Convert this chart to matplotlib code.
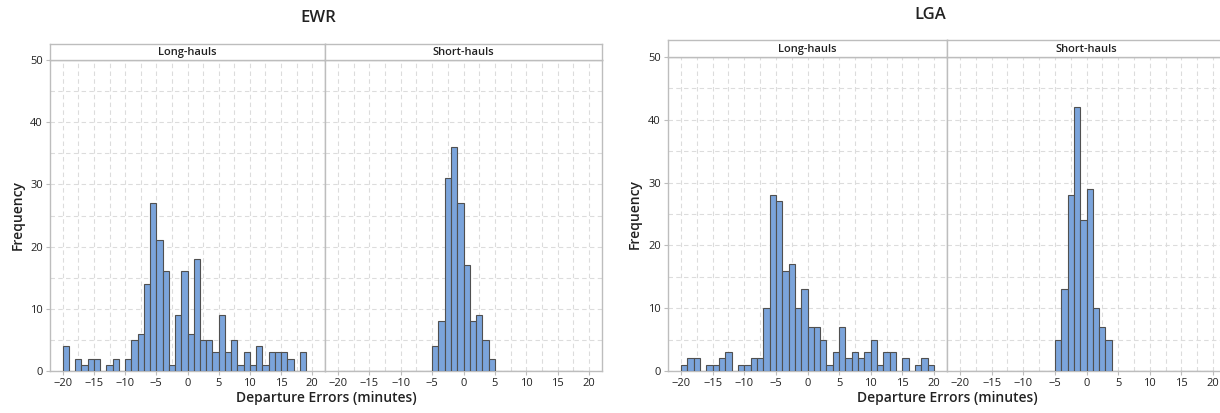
import numpy as np
import matplotlib
matplotlib.use("Agg")
import matplotlib.pyplot as plt

plt.rcParams['font.family'] = ['Open Sans', 'DejaVu Sans']

# bin left edges (width 1 minute)
ewr_bins = [-20, -19, -18, -17, -16, -15, -14, -13, -12, -11,
            -10, -9, -8, -7, -6, -5, -4, -3, -2, -1,
            0, 1, 2, 3, 4, 5, 6, 7, 8, 9,
            10, 11, 12, 13, 14, 15, 16, 17, 18]
ewr_long = [4, 0, 2, 1, 2, 2, 0, 1, 2, 0,
            2, 5, 6, 14, 27, 21, 16, 1, 9, 16,
            6, 18, 5, 5, 3, 9, 3, 5, 1, 3,
            1, 4, 1, 3, 3, 3, 2, 0, 3]
ewr_short = [0, 0, 0, 0, 0, 0, 0, 0, 0, 0,
             0, 0, 0, 0, 0, 4, 8, 31, 36, 27,
             17, 8, 9, 5, 2, 0, 0, 0, 0, 0,
             0, 0, 0, 0, 0, 0, 0, 0, 0]

lga_bins = [-20, -19, -18, -17, -16, -15, -14, -13, -12, -11,
            -10, -9, -8, -7, -6, -5, -4, -3, -2, -1,
            0, 1, 2, 3, 4, 5, 6, 7, 8, 9,
            10, 11, 12, 13, 14, 15, 16, 17, 18, 19]
lga_long = [1, 2, 2, 0, 1, 1, 2, 3, 0, 1,
            1, 2, 2, 10, 28, 27, 16, 17, 10, 13,
            7, 7, 5, 1, 3, 7, 2, 3, 2, 3,
            5, 1, 3, 3, 0, 2, 0, 1, 2, 1]
lga_short = [0, 0, 0, 0, 0, 0, 0, 0, 0, 0,
             0, 0, 0, 0, 0, 5, 13, 28, 42, 24,
             29, 10, 7, 5, 0, 0, 0, 0, 0, 0,
             0, 0, 0, 0, 0, 0, 0, 0, 0, 0]

panel_names = ["Long-hauls", "Short-hauls"]
xticks = [-20, -15, -10, -5, 0, 5, 10, 15, 20]
yticks = [0, 10, 20, 30, 40, 50]

W, H = 1220, 413
fig = plt.figure(figsize=(W / 100, H / 100), dpi=100)

BAR = '#7BA4DB'
EDGE = '#505050'
FRAME = '#bdbdbd'
GRID = '#dcdcdc'
TXT = '#222222'


def rect(x0, x1, ytop, ybot):
    return [x0 / W, 1 - ybot / H, (x1 - x0) / W, (ybot - ytop) / H]


def draw_chart(title, bins, series, xs, ytop, ybot, ystrip, title_x, title_y, ylab_x):
    for i, (name, counts) in enumerate(zip(panel_names, series)):
        ax = fig.add_axes(rect(xs[i], xs[i + 1], ytop, ybot))
        ax.bar(bins, counts, width=1, align='edge', color=BAR,
               edgecolor=EDGE, linewidth=0.8, zorder=3)
        ax.set_xlim(-22.05, 22.05)
        ax.set_ylim(0, 50)
        ax.set_xticks(xticks)
        ax.set_xticks(np.arange(-20, 20.1, 2.5), minor=True)
        ax.set_yticks(yticks)
        ax.set_yticks(np.arange(0, 50.1, 5), minor=True)
        ax.grid(True, which='both', color=GRID, linestyle=(0, (4, 3)), linewidth=0.8, zorder=0)
        ax.tick_params(which='minor', length=0)
        ax.tick_params(which='major', length=3, color=FRAME, labelsize=8,
                       labelcolor=TXT, pad=2)
        for s in ax.spines.values():
            s.set_color(FRAME)
            s.set_linewidth(1.0)
        if i > 0:
            ax.tick_params(axis='y', left=False, labelleft=False)
        # strip
        sx = fig.add_axes(rect(xs[i], xs[i + 1], ystrip, ytop))
        sx.set_xticks([])
        sx.set_yticks([])
        for s in sx.spines.values():
            s.set_color(FRAME)
            s.set_linewidth(1.0)
        sx.text(0.5, 0.45, name, ha='center', va='center', fontsize=8,
                fontweight='semibold', color=TXT, transform=sx.transAxes)
    fig.text(title_x / W, 1 - title_y / H, title, ha='center', va='center',
             fontsize=12, fontweight='semibold', color=TXT)
    fig.text(ylab_x / W, 1 - (ytop + ybot) / 2 / H, "Frequency", rotation=90,
             ha='center', va='center', fontsize=10, fontweight='semibold', color=TXT)
    fig.text((xs[0] + xs[2]) / 2 / W, 1 - 398 / H, "Departure Errors (minutes)",
             ha='center', va='center', fontsize=10, fontweight='semibold', color=TXT)


draw_chart("EWR", ewr_bins, [ewr_long, ewr_short], [50, 325, 602],
           60, 371, 44, 318, 18, 18)
draw_chart("LGA", lga_bins, [lga_long, lga_short], [668, 947, 1226],
           57, 371, 40, 930, 15, 635)

fig.savefig("out.png", dpi=100)
